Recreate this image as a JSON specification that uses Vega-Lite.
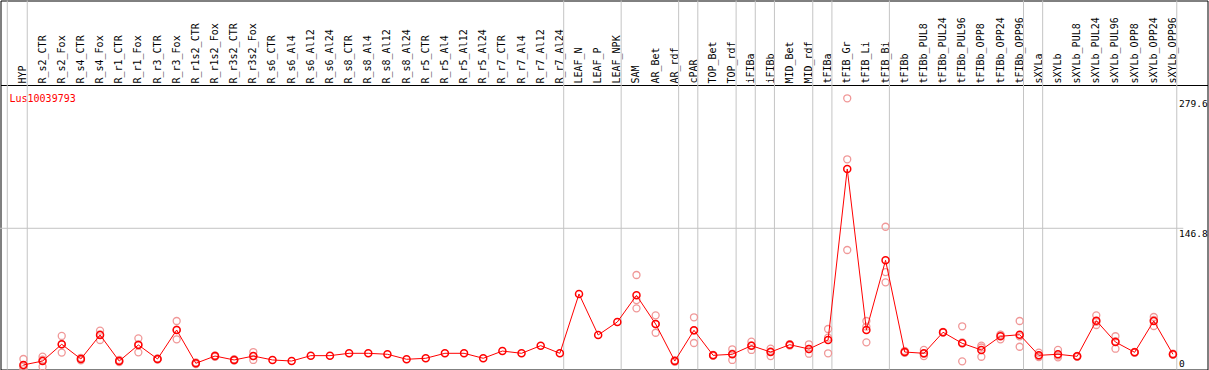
{
  "$schema": "https://vega.github.io/schema/vega-lite/v6.json",
  "width": 1207,
  "height": 369,
  "autosize": "none",
  "padding": {"left": 0.5, "top": 0.5, "right": 1, "bottom": 0},
  "background": "white",
  "config": {"view": {"stroke": "black", "strokeWidth": 1}, "font": "DejaVu Sans Mono"},
  "title": {"text": "Lus10039793", "color": "red", "font": "DejaVu Sans Mono", "fontSize": 10, "fontWeight": "normal", "anchor": "start", "frame": "group", "orient": "top", "baseline": "top", "offset": -104, "dx": 9},
  "datasets": {
    "means": [
      {"s": "HYP", "v": 7.2}, {"s": "R_s2_CTR", "v": 11.2}, {"s": "R_s2_Fox", "v": 28.3}, {"s": "R_s4_CTR", "v": 13.3}, {"s": "R_s4_Fox", "v": 37.8},
      {"s": "R_r1_CTR", "v": 11.2}, {"s": "R_r1_Fox", "v": 27.6}, {"s": "R_r3_CTR", "v": 13.3}, {"s": "R_r3_Fox", "v": 42.9}, {"s": "R_r1s2_CTR", "v": 8.9},
      {"s": "R_r1s2_Fox", "v": 16.3}, {"s": "R_r3s2_CTR", "v": 12.3}, {"s": "R_r3s2_Fox", "v": 16.3}, {"s": "R_s6_CTR", "v": 12.3}, {"s": "R_s6_Al4", "v": 11.2},
      {"s": "R_s6_Al12", "v": 16.7}, {"s": "R_s6_Al24", "v": 16.7}, {"s": "R_s8_CTR", "v": 19.1}, {"s": "R_s8_Al4", "v": 19.1}, {"s": "R_s8_Al12", "v": 18.1},
      {"s": "R_s8_Al24", "v": 13.0}, {"s": "R_r5_CTR", "v": 14.0}, {"s": "R_r5_Al4", "v": 19.1}, {"s": "R_r5_Al12", "v": 19.1}, {"s": "R_r5_Al24", "v": 14.0},
      {"s": "R_r7_CTR", "v": 21.4}, {"s": "R_r7_Al4", "v": 19.1}, {"s": "R_r7_Al12", "v": 26.9}, {"s": "R_r7_Al24", "v": 19.1}, {"s": "LEAF_N", "v": 79.7},
      {"s": "LEAF_P", "v": 37.8}, {"s": "LEAF_NPK", "v": 51.1}, {"s": "SAM", "v": 78.3}, {"s": "AR_Bet", "v": 49.0}, {"s": "AR_rdf", "v": 11.2},
      {"s": "cPAR", "v": 42.6}, {"s": "TOP_Bet", "v": 17.0}, {"s": "TOP_rdf", "v": 18.1}, {"s": "iFIBa", "v": 26.9}, {"s": "iFIBb", "v": 20.4},
      {"s": "MID_Bet", "v": 27.9}, {"s": "MID_rdf", "v": 23.5}, {"s": "tFIBa", "v": 32.7}, {"s": "tFIB_Gr", "v": 207.4}, {"s": "tFIB_Li", "v": 42.9},
      {"s": "tFIB_Bi", "v": 114.1}, {"s": "tFIBb", "v": 20.4}, {"s": "tFIBb_PUL8", "v": 19.1}, {"s": "tFIBb_PUL24", "v": 40.6}, {"s": "tFIBb_PUL96", "v": 29.3},
      {"s": "tFIBb_OPP8", "v": 22.5}, {"s": "tFIBb_OPP24", "v": 36.5}, {"s": "tFIBb_OPP96", "v": 38.1}, {"s": "sXYLa", "v": 17.0}, {"s": "sXYLb", "v": 18.1},
      {"s": "sXYLb_PUL8", "v": 16.0}, {"s": "sXYLb_PUL24", "v": 52.4}, {"s": "sXYLb_PUL96", "v": 30.6}, {"s": "sXYLb_OPP8", "v": 20.1}, {"s": "sXYLb_OPP24", "v": 52.1},
      {"s": "sXYLb_OPP96", "v": 18.1}
    ],
    "reps": [
      {"s": "HYP", "v": 13.3}, {"s": "HYP", "v": 5.4}, {"s": "HYP", "v": 3.0},
      {"s": "R_s2_CTR", "v": 15.7}, {"s": "R_s2_CTR", "v": 5.4}, {"s": "R_s2_CTR", "v": 12.5},
      {"s": "R_s2_Fox", "v": 36.8}, {"s": "R_s2_Fox", "v": 19.8}, {"s": "R_s2_Fox", "v": 28.3},
      {"s": "R_s4_CTR", "v": 14.5}, {"s": "R_s4_CTR", "v": 12.0}, {"s": "R_s4_CTR", "v": 13.4},
      {"s": "R_s4_Fox", "v": 42.2}, {"s": "R_s4_Fox", "v": 32.7}, {"s": "R_s4_Fox", "v": 38.5},
      {"s": "R_r1_CTR", "v": 12.3}, {"s": "R_r1_CTR", "v": 10.2}, {"s": "R_r1_CTR", "v": 11.1},
      {"s": "R_r1_Fox", "v": 34.4}, {"s": "R_r1_Fox", "v": 20.1}, {"s": "R_r1_Fox", "v": 28.3},
      {"s": "R_r3_CTR", "v": 13.9}, {"s": "R_r3_CTR", "v": 12.7}, {"s": "R_r3_CTR", "v": 13.3},
      {"s": "R_r3_Fox", "v": 52.1}, {"s": "R_r3_Fox", "v": 33.4}, {"s": "R_r3_Fox", "v": 43.2},
      {"s": "R_r1s2_CTR", "v": 9.8}, {"s": "R_r1s2_CTR", "v": 8.0}, {"s": "R_r1s2_CTR", "v": 8.9},
      {"s": "R_r1s2_Fox", "v": 17.0}, {"s": "R_r1s2_Fox", "v": 15.6}, {"s": "R_r1s2_Fox", "v": 16.3},
      {"s": "R_r3s2_CTR", "v": 13.0}, {"s": "R_r3s2_CTR", "v": 11.6}, {"s": "R_r3s2_CTR", "v": 12.3},
      {"s": "R_r3s2_Fox", "v": 20.4}, {"s": "R_r3s2_Fox", "v": 12.3}, {"s": "R_r3s2_Fox", "v": 16.2},
      {"s": "SAM", "v": 99.1}, {"s": "SAM", "v": 73.5}, {"s": "SAM", "v": 65.0},
      {"s": "AR_Bet", "v": 57.9}, {"s": "AR_Bet", "v": 40.1}, {"s": "AR_Bet", "v": 49.0},
      {"s": "AR_rdf", "v": 12.0}, {"s": "AR_rdf", "v": 10.5}, {"s": "AR_rdf", "v": 11.1},
      {"s": "cPAR", "v": 55.9}, {"s": "cPAR", "v": 29.6}, {"s": "cPAR", "v": 42.3},
      {"s": "TOP_Bet", "v": 17.5}, {"s": "TOP_Bet", "v": 16.5}, {"s": "TOP_Bet", "v": 17.0},
      {"s": "TOP_rdf", "v": 23.2}, {"s": "TOP_rdf", "v": 12.3}, {"s": "TOP_rdf", "v": 18.8},
      {"s": "iFIBa", "v": 31.0}, {"s": "iFIBa", "v": 22.5}, {"s": "iFIBa", "v": 27.2},
      {"s": "iFIBb", "v": 23.8}, {"s": "iFIBb", "v": 16.3}, {"s": "iFIBb", "v": 21.1},
      {"s": "MID_Bet", "v": 28.5}, {"s": "MID_Bet", "v": 27.0}, {"s": "MID_Bet", "v": 28.2},
      {"s": "MID_rdf", "v": 28.3}, {"s": "MID_rdf", "v": 18.7}, {"s": "MID_rdf", "v": 23.5},
      {"s": "tFIBa", "v": 43.9}, {"s": "tFIBa", "v": 19.1}, {"s": "tFIBa", "v": 35.1},
      {"s": "tFIB_Gr", "v": 279.6}, {"s": "tFIB_Gr", "v": 217.3}, {"s": "tFIB_Gr", "v": 124.6},
      {"s": "tFIB_Li", "v": 52.1}, {"s": "tFIB_Li", "v": 30.3}, {"s": "tFIB_Li", "v": 46.3},
      {"s": "tFIB_Bi", "v": 148.4}, {"s": "tFIB_Bi", "v": 102.1}, {"s": "tFIB_Bi", "v": 91.6},
      {"s": "tFIBb", "v": 21.5}, {"s": "tFIBb", "v": 19.5}, {"s": "tFIBb", "v": 20.2},
      {"s": "tFIBb_PUL8", "v": 22.5}, {"s": "tFIBb_PUL8", "v": 16.3}, {"s": "tFIBb_PUL8", "v": 18.5},
      {"s": "tFIBb_PUL24", "v": 41.0}, {"s": "tFIBb_PUL24", "v": 40.2}, {"s": "tFIBb_PUL24", "v": 40.6},
      {"s": "tFIBb_PUL96", "v": 46.7}, {"s": "tFIBb_PUL96", "v": 10.9}, {"s": "tFIBb_PUL96", "v": 30.3},
      {"s": "tFIBb_OPP8", "v": 26.9}, {"s": "tFIBb_OPP8", "v": 15.6}, {"s": "tFIBb_OPP8", "v": 25.0},
      {"s": "tFIBb_OPP24", "v": 33.4}, {"s": "tFIBb_OPP24", "v": 38.0}, {"s": "tFIBb_OPP24", "v": 38.1},
      {"s": "tFIBb_OPP96", "v": 52.1}, {"s": "tFIBb_OPP96", "v": 25.8}, {"s": "tFIBb_OPP96", "v": 36.4},
      {"s": "sXYLa", "v": 19.7}, {"s": "sXYLa", "v": 16.0}, {"s": "sXYLa", "v": 15.3},
      {"s": "sXYLb", "v": 22.5}, {"s": "sXYLb", "v": 15.0}, {"s": "sXYLb", "v": 16.8},
      {"s": "sXYLb_PUL8", "v": 16.5}, {"s": "sXYLb_PUL8", "v": 15.5}, {"s": "sXYLb_PUL8", "v": 16.0},
      {"s": "sXYLb_PUL24", "v": 57.9}, {"s": "sXYLb_PUL24", "v": 48.0}, {"s": "sXYLb_PUL24", "v": 51.3},
      {"s": "sXYLb_PUL96", "v": 36.5}, {"s": "sXYLb_PUL96", "v": 23.8}, {"s": "sXYLb_PUL96", "v": 31.5},
      {"s": "sXYLb_OPP8", "v": 20.5}, {"s": "sXYLb_OPP8", "v": 19.7}, {"s": "sXYLb_OPP8", "v": 20.1},
      {"s": "sXYLb_OPP24", "v": 56.2}, {"s": "sXYLb_OPP24", "v": 47.0}, {"s": "sXYLb_OPP24", "v": 53.1},
      {"s": "sXYLb_OPP96", "v": 18.8}, {"s": "sXYLb_OPP96", "v": 17.5}, {"s": "sXYLb_OPP96", "v": 18.0}
    ],
    "groupEnds": [
      {"s": "HYP"}, {"s": "R_r7_Al24"}, {"s": "LEAF_NPK"}, {"s": "AR_rdf"}, {"s": "cPAR"}, {"s": "TOP_rdf"}, {"s": "iFIBa"},
      {"s": "iFIBb"}, {"s": "MID_rdf"}, {"s": "tFIBa"}, {"s": "tFIB_Bi"}, {"s": "tFIBb_OPP96"}, {"s": "sXYLa"}, {"s": "sXYLb_OPP96"}
    ],
    "groupStart": [{"s": "HYP"}],
    "grid": [{"g": 146.8, "a": "HYP", "b": "sXYLb_OPP96"}]
  },
  "layer": [
    {
      "data": {"name": "groupEnds"},
      "mark": {"type": "rule", "color": "#c4c4c4", "strokeWidth": 1},
      "encoding": {"x": {"field": "s", "type": "nominal", "bandPosition": 0.7}}
    },
    {
      "data": {"name": "groupStart"},
      "mark": {"type": "rule", "color": "#c4c4c4", "strokeWidth": 1},
      "encoding": {"x": {"field": "s", "type": "nominal", "bandPosition": -0.342}}
    },
    {
      "data": {"name": "grid"},
      "mark": {"type": "rule", "color": "#c4c4c4", "strokeWidth": 1},
      "encoding": {
        "y": {"field": "g", "type": "quantitative"},
        "x": {"field": "a", "type": "nominal", "bandPosition": -0.879},
        "x2": {"field": "b", "bandPosition": 1.04}
      }
    },
    {
      "data": {"name": "reps"},
      "mark": {"type": "point", "shape": "circle", "filled": false, "size": 49, "strokeWidth": 1.3, "color": "#f09898", "opacity": 1},
      "encoding": {
        "x": {"field": "s", "type": "nominal", "bandPosition": 0.5},
        "y": {"field": "v", "type": "quantitative"}
      }
    },
    {
      "data": {"name": "means"},
      "mark": {"type": "line", "color": "#ff0000", "strokeWidth": 1},
      "encoding": {
        "x": {
          "field": "s", "type": "nominal", "bandPosition": 0.5,
          "scale": {"type": "band", "domain": ["HYP","R_s2_CTR","R_s2_Fox","R_s4_CTR","R_s4_Fox","R_r1_CTR","R_r1_Fox","R_r3_CTR","R_r3_Fox","R_r1s2_CTR","R_r1s2_Fox","R_r3s2_CTR","R_r3s2_Fox","R_s6_CTR","R_s6_Al4","R_s6_Al12","R_s6_Al24","R_s8_CTR","R_s8_Al4","R_s8_Al12","R_s8_Al24","R_r5_CTR","R_r5_Al4","R_r5_Al12","R_r5_Al24","R_r7_CTR","R_r7_Al4","R_r7_Al12","R_r7_Al24","LEAF_N","LEAF_P","LEAF_NPK","SAM","AR_Bet","AR_rdf","cPAR","TOP_Bet","TOP_rdf","iFIBa","iFIBb","MID_Bet","MID_rdf","tFIBa","tFIB_Gr","tFIB_Li","tFIB_Bi","tFIBb","tFIBb_PUL8","tFIBb_PUL24","tFIBb_PUL96","tFIBb_OPP8","tFIBb_OPP24","tFIBb_OPP96","sXYLa","sXYLb","sXYLb_PUL8","sXYLb_PUL24","sXYLb_PUL96","sXYLb_OPP8","sXYLb_OPP24","sXYLb_OPP96"], "paddingInner": 0, "paddingOuter": 1.263, "align": 0.348, "round": false},
          "axis": {"orient": "top", "offset": -84.5, "title": null, "labelAngle": -90, "labelAlign": "left", "labelBaseline": "middle", "labelPadding": 2, "ticks": false, "tickSize": 0, "domainColor": "black", "domainWidth": 1, "labelFont": "DejaVu Sans Mono", "labelFontSize": 10, "labelColor": "black", "labelOverlap": false, "labelLimit": 0, "grid": false}
        },
        "y": {
          "field": "v", "type": "quantitative",
          "scale": {"domain": [2.55, 379.5], "zero": false, "nice": false},
          "axis": {"orient": "right", "offset": -30, "title": null, "values": [279.6, 146.8, 14], "labelExpr": "datum.value < 20 ? '0' : format(datum.value, '.1f')", "domain": false, "ticks": false, "tickSize": 0, "grid": false, "labelAlign": "left", "labelBaseline": "top", "labelPadding": 1, "labelFont": "DejaVu Sans Mono", "labelFontSize": 9.5, "labelColor": "black"}
        }
      }
    },
    {
      "data": {"name": "means"},
      "mark": {"type": "point", "shape": "circle", "filled": false, "size": 49, "strokeWidth": 1.5, "color": "#ff0000", "opacity": 1},
      "encoding": {
        "x": {"field": "s", "type": "nominal", "bandPosition": 0.5},
        "y": {"field": "v", "type": "quantitative"}
      }
    }
  ]
}
